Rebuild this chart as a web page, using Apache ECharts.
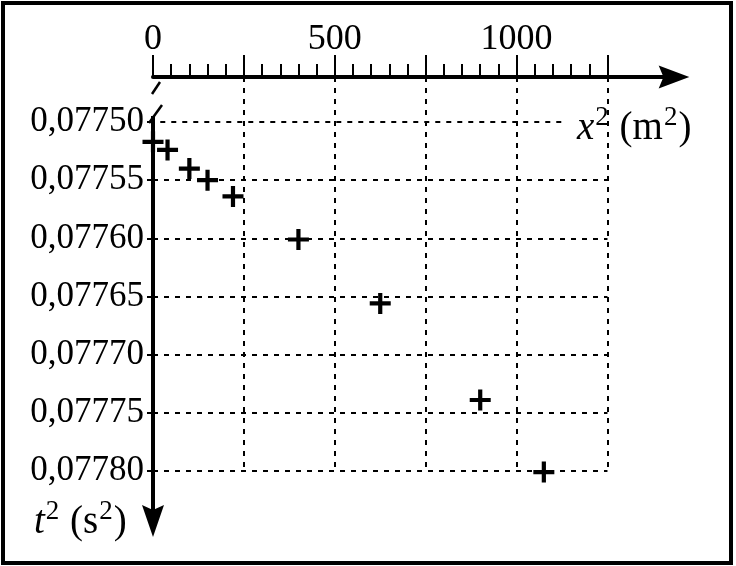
<!DOCTYPE html>
<html>
<head>
<meta charset="utf-8">
<script src="https://cdn.jsdelivr.net/npm/echarts@6/dist/echarts.min.js"></script>
<style>
html,body{margin:0;padding:0;background:#fff;}
#chart{width:736px;height:566px;}
</style>
</head>
<body>
<div id="chart"></div>
<script>
// ---- data ----
const xSquared = [0, 40, 100, 150, 220, 400, 625, 900, 1075];
const tSquared = [0.077517, 0.077524, 0.077540, 0.077550, 0.077564, 0.077601, 0.077656, 0.077739, 0.077801];
const xMajorTicks = [0, 250, 500, 750, 1000, 1250];
const xTickLabels = [0, 500, 1000];
const xMinorTicks = [50,100,150,200,300,350,400,450,550,600,650,700,800,850,900,950,1050,1100,1150,1200];
const yTicks = [0.07750, 0.07755, 0.07760, 0.07765, 0.07770, 0.07775, 0.07780];
const xGridLines = [250, 500, 750, 1000, 1250];
const yGridLines = [0.07755, 0.07760, 0.07765, 0.07770, 0.07775, 0.07780];

// axis extents
const X_MIN = 0, X_END = 1433;
const Y_TOP = 0.0774613, Y_END = 0.0778568;
const Y_BREAK = 0.0774948, Y_ARROW = 0.077843;
const X_GRID_END = 1250, Y_GRID_END = 0.07780;

const FONT = '"Liberation Serif", "Times New Roman", serif';
const arrowPath = 'path://M12,0L24,32L12,27L0,32Z';
const plusPath = 'path://M8,0H12V8H20V12H12V20H8V12H0V8H8Z';
const dashStyle = {type: [5, 6], width: 2, color: '#000'};

const gridLinesData = [];
xGridLines.forEach(v => gridLinesData.push([{coord: [v, Y_TOP]}, {coord: [v, Y_GRID_END]}]));
gridLinesData.push([{coord: [20, yTicks[0]]}, {coord: [1125, yTicks[0]]}]);
yGridLines.forEach(v => gridLinesData.push([{coord: [X_MIN, v]}, {coord: [X_GRID_END, v]}]));

const gridBox = {left: 153, top: 77, width: 521, height: 460};
const ox = gridBox.left, oy = gridBox.top; // pixel origin of the axes (x = 0, top of y range)

const richName = {
  i: {fontFamily: FONT, fontStyle: 'italic', fontSize: 39, color: '#000'},
  n: {fontFamily: FONT, fontSize: 39, color: '#000'},
  s: {fontFamily: FONT, fontSize: 27, color: '#000', padding: [0, 1, 22, 1]}
};
const slashStyle = {stroke: '#000', lineWidth: 2.5, fill: null};

const chart = echarts.init(document.getElementById('chart'), null, {renderer: 'canvas'});
chart.setOption({
  animation: false,
  backgroundColor: '#fff',
  grid: [Object.assign({}, gridBox), Object.assign({}, gridBox)],
  xAxis: [{
    gridIndex: 0, type: 'value', position: 'top', min: X_MIN, max: X_END,
    axisLine: {show: true, lineStyle: {color: '#000', width: 4}, symbol: ['none', arrowPath], symbolSize: [23, 32]},
    axisTick: {show: true, customValues: xMajorTicks, length: 22, lineStyle: {color: '#000', width: 2}},
    axisLabel: {show: true, customValues: xTickLabels, fontFamily: FONT, fontSize: 36, color: '#000', margin: 19,
      formatter: v => String(v)},
    splitLine: {show: false}
  }, {
    gridIndex: 1, type: 'value', position: 'top', min: X_MIN, max: X_END,
    axisLine: {show: false},
    axisTick: {show: true, customValues: xMinorTicks, length: 13, lineStyle: {color: '#000', width: 2}},
    axisLabel: {show: false},
    splitLine: {show: false}
  }],
  yAxis: [{
    gridIndex: 0, type: 'value', inverse: true, min: Y_TOP, max: Y_END,
    axisLine: {show: false},
    axisTick: {show: true, customValues: yTicks, length: 6, lineStyle: {color: '#000', width: 2}},
    axisLabel: {show: true, customValues: yTicks, fontFamily: FONT, fontSize: 35, color: '#000', margin: 9,
      formatter: v => v.toFixed(5).replace('.', ',')},
    splitLine: {show: false}
  }, {
    gridIndex: 1, type: 'value', inverse: true, min: Y_TOP, max: Y_END, show: false
  }],
  series: [{
    type: 'scatter', xAxisIndex: 0, yAxisIndex: 0, clip: false,
    symbol: plusPath, symbolSize: 21,
    itemStyle: {color: '#000', opacity: 1},
    data: xSquared.map((x, i) => [x, tSquared[i]]),
    z: 5,
    markLine: {
      silent: true, symbol: ['none', 'none'], label: {show: false},
      lineStyle: dashStyle, animation: false,
      data: gridLinesData
    }
  }, {
    type: 'scatter', xAxisIndex: 0, yAxisIndex: 0, clip: false, data: [],
    markLine: {
      silent: true, label: {show: false}, animation: false, symbol: ['none', 'none'],
      lineStyle: {type: 'solid', color: '#000', width: 4, opacity: 1},
      data: [
        [{coord: [X_MIN, Y_BREAK], symbol: 'none'}, {coord: [X_MIN, Y_ARROW], symbol: arrowPath, symbolSize: [22, 32]}]
      ]
    }
  }],
  graphic: [
    {id: 'frame', type: 'rect', shape: {x: 3, y: 3, width: 728, height: 560}, style: {fill: 'none', stroke: '#000', lineWidth: 4}, z: 100},
    {id: 'xname', type: 'text', left: 577, top: 104, style: {text: '{i|x}{s|2}{n| (m}{s|2}{n|)}', rich: richName}},
    {id: 'yname', type: 'text', left: 34, top: 498, style: {text: '{i|t}{s|2}{n| (s}{s|2}{n|)}', rich: richName}},
    {id: 'slash1', type: 'line', shape: {x1: ox + 7, y1: oy + 5, x2: ox - 1, y2: oy + 17}, style: slashStyle, z: 50},
    {id: 'slash2', type: 'line', shape: {x1: ox + 9, y1: oy + 28, x2: ox - 4, y2: oy + 46}, style: slashStyle, z: 50}
  ]
});
</script>
</body>
</html>
